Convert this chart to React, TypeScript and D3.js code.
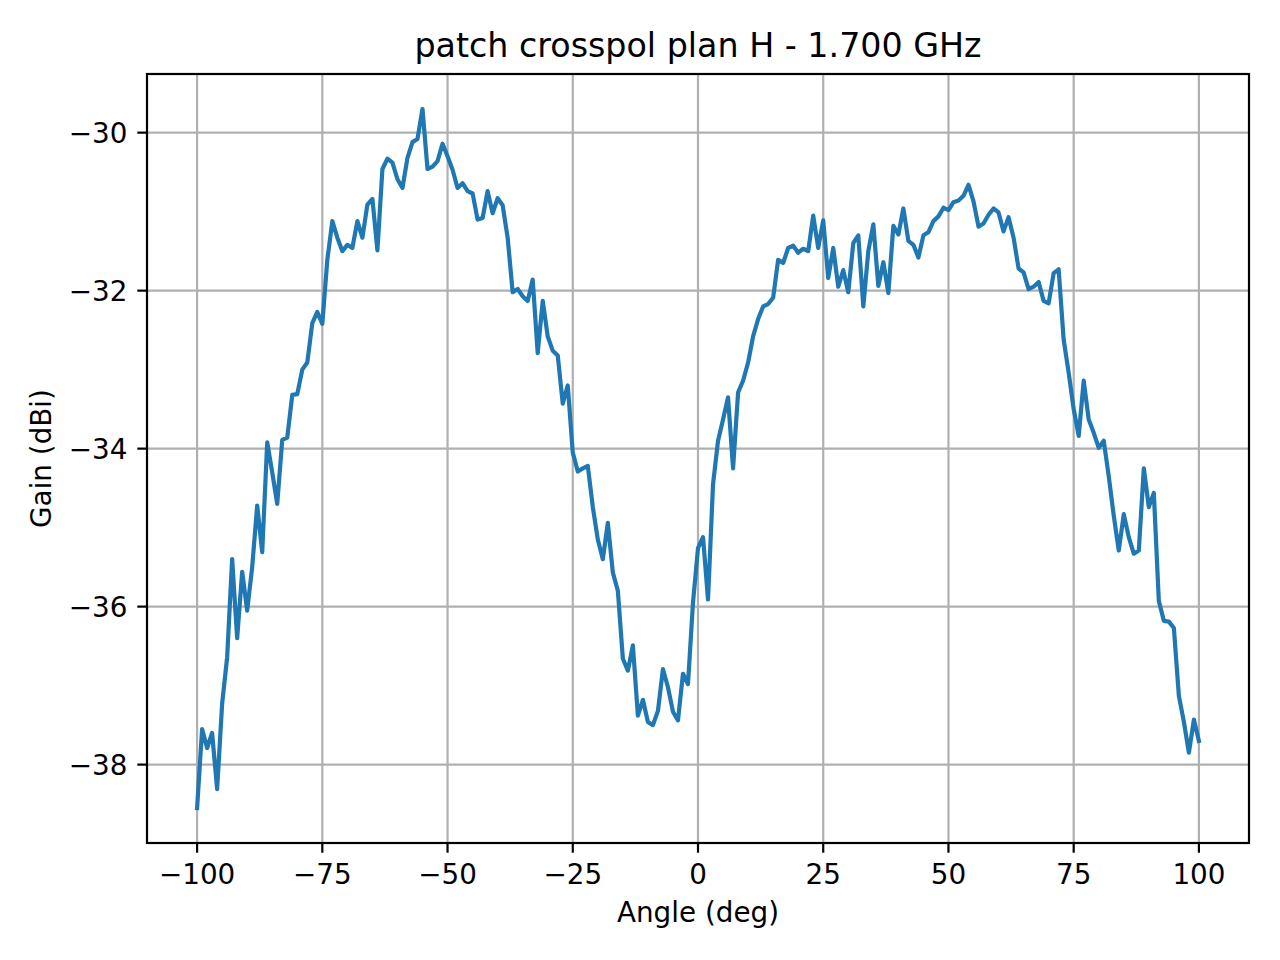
import React, { useEffect, useRef } from "react";
import * as d3 from "d3";

/* DATA */
const title = "patch crosspol plan H - 1.700 GHz";
const xLabel = "Angle (deg)";
const yLabel = "Gain (dBi)";

// sampled every degree from -100 to 100
const angles = d3.range(-100, 101, 1);

const gain = [
  // -100 .. -91
  -38.55, -37.55, -37.79, -37.6, -38.31, -37.23, -36.64, -35.4, -36.4, -35.56,
  // -90 .. -81
  -36.05, -35.5, -34.72, -35.31, -33.92, -34.3, -34.7, -33.89, -33.86, -33.32,
  // -80 .. -71
  -33.31, -33.0, -32.91, -32.41, -32.27, -32.42, -31.61, -31.12, -31.33, -31.5,
  // -70 .. -61
  -31.42, -31.46, -31.12, -31.33, -30.91, -30.84, -31.49, -30.46, -30.33, -30.38,
  // -60 .. -51
  -30.59, -30.7, -30.32, -30.12, -30.08, -29.7, -30.46, -30.43, -30.36, -30.14,
  // -50 .. -41
  -30.3, -30.47, -30.7, -30.64, -30.74, -30.77, -31.1, -31.08, -30.74, -31.02,
  // -40 .. -31
  -30.83, -30.92, -31.33, -32.02, -31.98, -32.07, -32.13, -31.86, -32.79, -32.13,
  // -30 .. -21
  -32.58, -32.76, -32.82, -33.43, -33.2, -34.05, -34.29, -34.25, -34.22, -34.74,
  // -20 .. -11
  -35.15, -35.4, -34.94, -35.57, -35.8, -36.66, -36.81, -36.49, -37.38, -37.18,
  // -10 .. -1
  -37.46, -37.5, -37.32, -36.79, -37.02, -37.33, -37.44, -36.85, -36.98, -35.95,
  // 0 .. 9
  -35.26, -35.12, -35.91, -34.45, -33.9, -33.63, -33.35, -34.25, -33.29, -33.14,
  // 10 .. 19
  -32.91, -32.58, -32.36, -32.2, -32.17, -32.09, -31.61, -31.65, -31.46, -31.43,
  // 20 .. 29
  -31.52, -31.47, -31.5, -31.05, -31.46, -31.11, -31.84, -31.46, -31.95, -31.74,
  // 30 .. 39
  -32.02, -31.4, -31.3, -32.2, -31.5, -31.16, -31.94, -31.64, -32.03, -31.18,
  // 40 .. 49
  -31.29, -30.96, -31.37, -31.42, -31.58, -31.3, -31.26, -31.12, -31.06, -30.95,
  // 50 .. 59
  -30.98, -30.88, -30.86, -30.8, -30.66, -30.87, -31.19, -31.15, -31.04, -30.96,
  // 60 .. 69
  -31.01, -31.25, -31.07, -31.33, -31.72, -31.77, -31.98, -31.95, -31.89, -32.13,
  // 70 .. 79
  -32.16, -31.78, -31.73, -32.62, -33.04, -33.5, -33.84, -33.14, -33.63, -33.8,
  // 80 .. 89
  -33.99, -33.9, -34.35, -34.85, -35.29, -34.83, -35.12, -35.33, -35.29, -34.25,
  // 90 .. 100
  -34.74, -34.56, -35.93, -36.18, -36.19, -36.27, -37.13, -37.46, -37.85, -37.43,
  -37.7,
];

const xTicks = [-100, -75, -50, -25, 0, 25, 50, 75, 100];
const yTicks = [-38, -36, -34, -32, -30];

const W = 1280;
const H = 960;
const margin = { left: 147, right: 31, top: 74, bottom: 117 };
const FONT = "'DejaVu Sans', sans-serif";

function fmt(v: number) {
  return v < 0 ? "\u2212" + Math.abs(v) : String(v);
}

function GainChart() {
  const svgRef = useRef(null);

  useEffect(() => {
    const svg = d3.select(svgRef.current);
    svg.selectAll("*").remove();

    const x0 = margin.left;
    const x1 = W - margin.right;
    const y0 = margin.top;
    const y1 = H - margin.bottom;

    // matplotlib style 5% padding around the data
    const xMin = d3.min(angles) as number;
    const xMax = d3.max(angles) as number;
    const yMin = d3.min(gain) as number;
    const yMax = d3.max(gain) as number;
    const xPad = (xMax - xMin) * 0.05;
    const yPad = (yMax - yMin) * 0.05;

    const x = d3.scaleLinear().domain([xMin - xPad, xMax + xPad]).range([x0, x1]);
    const y = d3.scaleLinear().domain([yMin - yPad, yMax + yPad]).range([y1, y0]);

    svg.append("rect").attr("width", W).attr("height", H).attr("fill", "#fff");

    // Grid
    const grid = svg.append("g").attr("stroke", "#b0b0b0").attr("stroke-width", 2.2);
    xTicks.forEach((t) => {
      grid.append("line").attr("x1", x(t)).attr("x2", x(t)).attr("y1", y0).attr("y2", y1);
    });
    yTicks.forEach((t) => {
      grid.append("line").attr("x1", x0).attr("x2", x1).attr("y1", y(t)).attr("y2", y(t));
    });

    // Line
    const line = d3
      .line<number>()
      .x((d, i) => x(angles[i]))
      .y((d) => y(d));

    svg
      .append("path")
      .datum(gain)
      .attr("d", line as any)
      .attr("fill", "none")
      .attr("stroke", "#1f77b4")
      .attr("stroke-width", 4.2)
      .attr("stroke-linejoin", "round")
      .attr("stroke-linecap", "square");

    // Frame
    svg
      .append("rect")
      .attr("x", x0)
      .attr("y", y0)
      .attr("width", x1 - x0)
      .attr("height", y1 - y0)
      .attr("fill", "none")
      .attr("stroke", "#000")
      .attr("stroke-width", 2.2);

    // X ticks
    const xt = svg.append("g");
    xTicks.forEach((t) => {
      xt.append("line")
        .attr("x1", x(t))
        .attr("x2", x(t))
        .attr("y1", y1)
        .attr("y2", y1 + 9.7)
        .attr("stroke", "#000")
        .attr("stroke-width", 2.2);
      xt.append("text")
        .attr("x", x(t))
        .attr("y", y1 + 41)
        .attr("text-anchor", "middle")
        .attr("font-family", FONT)
        .attr("font-size", 27.8)
        .text(fmt(t));
    });

    // Y ticks
    const yt = svg.append("g");
    yTicks.forEach((t) => {
      yt.append("line")
        .attr("x1", x0 - 9.7)
        .attr("x2", x0)
        .attr("y1", y(t))
        .attr("y2", y(t))
        .attr("stroke", "#000")
        .attr("stroke-width", 2.2);
      yt.append("text")
        .attr("x", x0 - 19.5)
        .attr("y", y(t) + 10)
        .attr("text-anchor", "end")
        .attr("font-family", FONT)
        .attr("font-size", 27.8)
        .text(fmt(t));
    });

    // Labels
    svg
      .append("text")
      .attr("x", (x0 + x1) / 2)
      .attr("y", 922)
      .attr("text-anchor", "middle")
      .attr("font-family", FONT)
      .attr("font-size", 27.8)
      .text(xLabel);

    svg
      .append("text")
      .attr("transform", `translate(51, ${(y0 + y1) / 2}) rotate(-90)`)
      .attr("text-anchor", "middle")
      .attr("font-family", FONT)
      .attr("font-size", 27.8)
      .text(yLabel);

    svg
      .append("text")
      .attr("x", (x0 + x1) / 2)
      .attr("y", 57)
      .attr("text-anchor", "middle")
      .attr("font-family", FONT)
      .attr("font-size", 33.3)
      .text(title);
  }, []);

  return <svg ref={svgRef} width={W} height={H} style={{ display: "block" }} />;
}

export default function App() {
  return (
    <div style={{ position: "absolute", top: 0, left: 0 }}>
      <GainChart />
    </div>
  );
}
